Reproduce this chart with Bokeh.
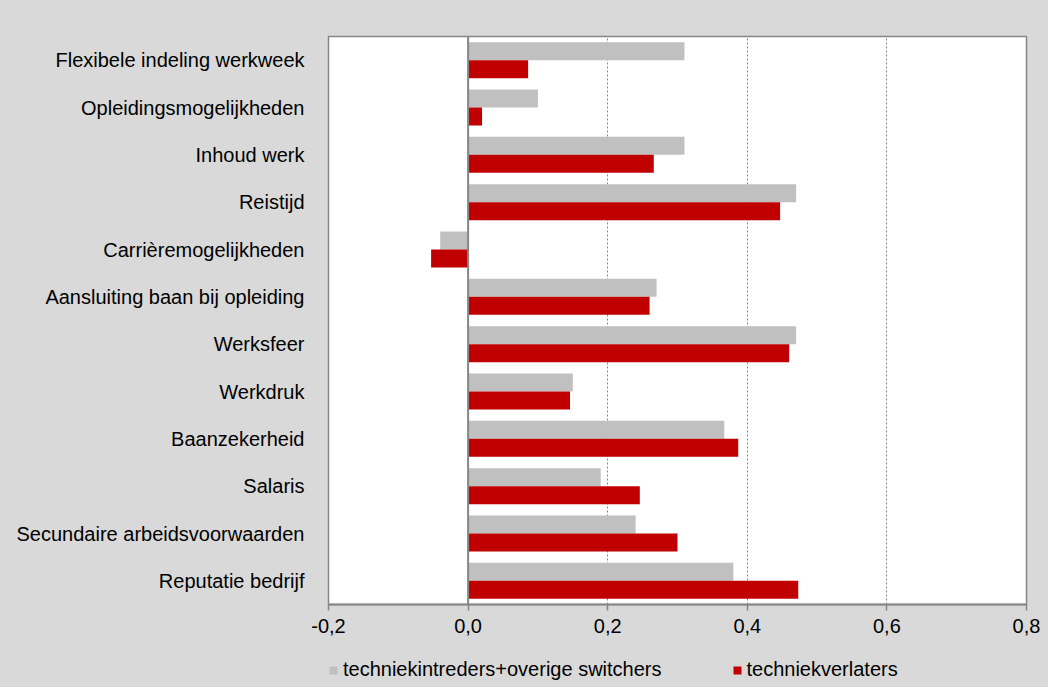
from bokeh.plotting import figure
from bokeh.layouts import column
from bokeh.models import Range1d, FactorRange, FixedTicker, Span, Legend, LegendItem, ColumnDataSource
from bokeh.transform import dodge
from bokeh.embed import file_html
from bokeh.resources import INLINE

categories = [
    "Flexibele indeling werkweek",
    "Opleidingsmogelijkheden",
    "Inhoud werk",
    "Reistijd",
    "Carrièremogelijkheden",
    "Aansluiting baan bij opleiding",
    "Werksfeer",
    "Werkdruk",
    "Baanzekerheid",
    "Salaris",
    "Secundaire arbeidsvoorwaarden",
    "Reputatie bedrijf",
]
intreders = [0.31, 0.10, 0.31, 0.47, -0.04, 0.27, 0.47, 0.15, 0.367, 0.19, 0.24, 0.38]
verlaters = [0.086, 0.02, 0.266, 0.447, -0.053, 0.26, 0.46, 0.146, 0.387, 0.246, 0.30, 0.473]
series_names = ["techniekintreders+overige switchers", "techniekverlaters"]
tick_values = [-0.2, 0.0, 0.2, 0.4, 0.6, 0.8]
tick_labels = ["-0,2", "0,0", "0,2", "0,4", "0,6", "0,8"]

FONT = "Liberation Sans"
GRAY_BAR = "#c0c0c0"
RED_BAR = "#c00000"
BG = "#d9d9d9"
AXIS_GRAY = "#868686"

src = ColumnDataSource(dict(cat=categories, a=intreders, b=verlaters))

p = figure(
    width=1048, height=644,
    y_range=FactorRange(factors=list(reversed(categories)), range_padding=0),
    x_range=Range1d(-0.2, 0.8),
    output_backend="svg", toolbar_location=None,
    min_border_left=328, min_border_right=22, min_border_top=36, min_border_bottom=40,
)
p.border_fill_color = BG
p.background_fill_color = "white"
p.outline_line_color = AXIS_GRAY
p.outline_line_width = 1.5

bar_h = 0.38
p.hbar(y=dodge("cat", 0.19, range=p.y_range), right="a", left=0, height=bar_h,
       source=src, fill_color=GRAY_BAR, line_color=None)
p.hbar(y=dodge("cat", -0.19, range=p.y_range), right="b", left=0, height=bar_h,
       source=src, fill_color=RED_BAR, line_color=None)

p.add_layout(Span(location=0, dimension="height", line_color=AXIS_GRAY, line_width=2))

# x axis
xa = p.xaxis[0]
xa.ticker = FixedTicker(ticks=tick_values)
xa.major_label_overrides = {v: l for v, l in zip(tick_values, tick_labels)}
xa.axis_line_color = AXIS_GRAY
xa.axis_line_width = 2
xa.major_tick_line_color = AXIS_GRAY
xa.major_tick_line_width = 1.5
xa.major_tick_out = 6
xa.major_tick_in = 0
xa.minor_tick_line_color = None
xa.major_label_standoff = 8
xa.major_label_text_font = FONT
xa.major_label_text_font_size = "20px"
xa.major_label_text_color = "black"

# y axis
ya = p.yaxis[0]
ya.axis_line_color = None
ya.major_tick_line_color = None
ya.minor_tick_line_color = None
ya.major_label_standoff = 18
ya.major_label_text_font = FONT
ya.major_label_text_font_size = "20px"
ya.major_label_text_color = "black"

p.ygrid.grid_line_color = None
p.xgrid.grid_line_color = AXIS_GRAY
p.xgrid.grid_line_dash = "2 2"
p.xgrid.grid_line_width = 1

# legend strip below the chart (transparent, sits on the gray column background)
lg = figure(
    width=1048, height=43, x_range=Range1d(0, 1), y_range=Range1d(0, 1),
    output_backend="svg", toolbar_location=None,
    min_border_left=0, min_border_right=0, min_border_top=0, min_border_bottom=0,
)
lg.axis.visible = False
lg.grid.visible = False
lg.outline_line_color = None
lg.background_fill_color = None
lg.border_fill_color = None
lr1 = lg.hbar(y="a", right="a", left=0, height=0.1, source=src,
              fill_color=GRAY_BAR, line_color=None, visible=False)
lr2 = lg.hbar(y="b", right="b", left=0, height=0.1, source=src,
              fill_color=RED_BAR, line_color=None, visible=False)

legend = Legend(
    items=[LegendItem(label=series_names[0], renderers=[lr1]),
           LegendItem(label=series_names[1], renderers=[lr2])],
    orientation="horizontal",
    location=(0, 6),
    background_fill_alpha=0, border_line_color=None,
    inactive_fill_alpha=0,
    padding=0, margin=0, spacing=70,
    glyph_width=10, glyph_height=10, label_standoff=5,
    label_text_font=FONT, label_text_font_size="20px", label_text_color="black",
)
lg.add_layout(legend, "center")

layout = column(p, lg, spacing=0, styles={"background-color": BG})
open("out.html", "w").write(file_html(layout, INLINE))
